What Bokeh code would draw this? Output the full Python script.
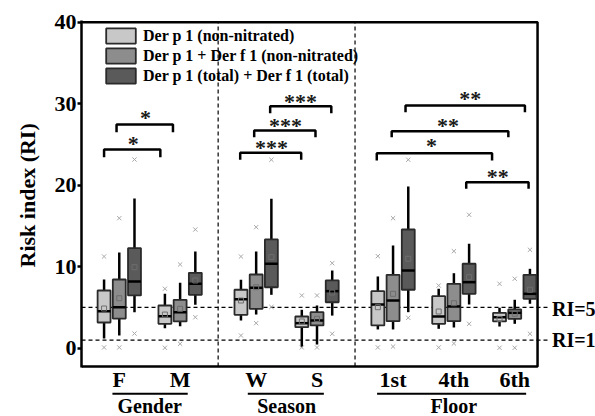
from bokeh.plotting import figure
from bokeh.models import Range1d, FixedTicker, Legend, LegendItem, Title
from bokeh.core.properties import value
from bokeh.embed import file_html
from bokeh.resources import INLINE

SERIF = "Liberation Serif"

# ---------------- data ----------------
categories = ["F", "M", "W", "S", "1st", "4th", "6th"]
cat_x = [0, 4, 9, 13, 18, 22, 26]
groups = ["Gender", "Season", "Floor"]
group_x = [2, 11, 22]
underline_start = [-0.45, 8.45, 16.95]
underline_end = [4.5, 13.45, 26.75]

series_names = ["Der p 1 (non-nitrated)",
                "Der p 1 + Der f 1 (non-nitrated)",
                "Der p 1 (total) + Der f 1 (total)"]
series_colors = ["#c8c8c8", "#8d8d8d", "#5a5a5a"]
series_offset = [-1, 0, 1]

# series A: Der p 1 (non-nitrated)
a_q1 = [3.15, 2.99, 4.10, 2.58, 2.79, 2.99, 3.28]
a_med = [4.54, 3.93, 6.01, 3.07, 5.36, 3.89, 3.80]
a_q3 = [7.08, 5.24, 7.17, 3.89, 7.00, 6.38, 4.34]
a_wlo = [1.19, 2.45, 3.40, 0.12, 2.30, 2.38, 2.66]
a_whi = [8.43, 6.67, 8.39, 4.71, 8.80, 7.29, 4.96]
a_mean = [4.87, 4.13, 5.85, 3.28, 5.03, 4.50, 3.60]
a_out_hi = [11.25, 7.29, 11.25, 6.47, 11.29, 7.69, 7.90]
a_out_lo = [0.09, 0.05, 1.56, 0.09, 0.09, 0.09, 0.05]

# series B: Der p 1 + Der f 1 (non-nitrated)
b_q1 = [3.64, 3.28, 4.83, 2.79, 3.31, 3.31, 3.60]
b_med = [5.03, 4.42, 7.41, 3.40, 5.85, 5.12, 4.34]
b_q3 = [8.43, 5.94, 9.04, 4.42, 9.00, 7.90, 4.75]
b_wlo = [1.56, 2.70, 4.13, 0.45, 2.30, 2.54, 2.99]
b_whi = [11.74, 8.02, 11.87, 5.24, 12.60, 9.20, 5.94]
b_mean = [6.13, 4.83, 7.48, 3.60, 6.67, 5.52, 4.22]
b_out_hi = [15.95, 10.27, 14.85, 6.47, 15.95, 11.90, 8.52]
b_out_lo = [0.09, 0.54, 3.07, 0.09, 0.20, 0.58, 0.05]

# series C: Der p 1 (total) + Der f 1 (total)
c_q1 = [6.47, 6.55, 7.48, 5.64, 7.17, 6.67, 6.06]
c_med = [8.18, 7.90, 10.36, 7.00, 9.53, 8.10, 6.67]
c_q3 = [12.27, 9.25, 13.34, 8.31, 14.56, 10.36, 9.00]
c_wlo = [4.42, 5.32, 6.55, 4.00, 4.42, 5.36, 5.45]
c_whi = [18.37, 11.87, 18.33, 9.53, 19.84, 12.81, 9.74]
c_mean = [9.94, 8.31, 11.17, 6.83, 10.97, 8.71, 7.17]
c_out_hi = [23.15, 14.56, 23.12, 10.43, 23.12, 16.37, 12.07]
c_out_lo = [1.80, 3.80, 5.06, 1.77, 3.73, 2.99, 1.77]

# significance brackets
br_x0 = [-1.00, -0.18, 7.95, 8.87, 9.92, 16.93, 17.91, 18.82, 22.81]
br_x1 = [2.70, 3.53, 11.96, 12.90, 13.94, 24.51, 25.58, 26.67, 26.91]
br_y = [24.38, 27.45, 23.98, 26.71, 29.69, 23.93, 26.63, 29.78, 20.37]
br_leg = [23.44, 26.50, 23.12, 25.89, 28.83, 23.03, 25.89, 28.96, 19.56]
star_x = [0.92, 1.72, 10.00, 10.93, 11.92, 20.52, 21.61, 23.07, 24.88]
star_y = [25.57, 28.76, 25.08, 27.82, 30.72, 25.36, 27.85, 31.13, 21.60]
star_text = ["*", "*", "***", "***", "***", "*", "**", "**", "**"]

ri_levels = [5, 1]
ri_labels = ["RI=5", "RI=1"]
ri_label_y = [4.85, 1.06]
separators_x = [6.5, 15.5]
y_ticks = [0, 10, 20, 30, 40]

# ---------------- figure ----------------
X0, X1 = -2.484, 31.31
Y0, Y1 = -8.38, 40.94
BOX_RIGHT = 27.5
BOX_BOTTOM = -2.25
BOX_TOP = 40
PX_PER_Y = 8.15

p = figure(width=595, height=416, output_backend="svg", toolbar_location=None,
           title=None, x_range=Range1d(X0, X1), y_range=Range1d(Y0, Y1),
           x_axis_location=None, min_border_left=78, min_border_right=0,
           min_border_top=14, min_border_bottom=0)
p.grid.visible = False
p.outline_line_color = None

# frame box (top, right, bottom); left edge is the y axis
p.line([X0, BOX_RIGHT, BOX_RIGHT, X0], [BOX_TOP, BOX_TOP, BOX_BOTTOM, BOX_BOTTOM],
       line_color="black", line_width=2.5)

# reference lines
for lv in ri_levels:
    p.line([X0, 28.2], [lv, lv], line_color="black", line_width=1.2, line_dash="4 3")
for sx in separators_x:
    p.line([sx, sx], [BOX_BOTTOM, BOX_TOP], line_color="black", line_width=1.2,
           line_dash="4 3")

series = [
    (a_q1, a_med, a_q3, a_wlo, a_whi, a_mean, a_out_hi, a_out_lo),
    (b_q1, b_med, b_q3, b_wlo, b_whi, b_mean, b_out_hi, b_out_lo),
    (c_q1, c_med, c_q3, c_wlo, c_whi, c_mean, c_out_hi, c_out_lo),
]
BW = 0.85
legend_items = []
for k, (q1, med, q3, wlo, whi, mean, ohi, olo) in enumerate(series):
    xs = [c + series_offset[k] for c in cat_x]
    p.segment(x0=xs, y0=wlo, x1=xs, y1=whi, line_color="black", line_width=2.5)
    r = p.vbar(x=xs, width=BW, bottom=q1, top=q3, fill_color=series_colors[k],
               line_color="#2a2a2a", line_width=1.8)
    legend_items.append(LegendItem(label=series_names[k], renderers=[r]))
    p.segment(x0=[x - BW / 2 for x in xs], y0=med, x1=[x + BW / 2 for x in xs], y1=med,
              line_color="black", line_width=2.5)
    p.scatter(xs, mean, marker="square", size=5, fill_color=None,
              line_color="#6e6e6e", line_width=1)
    p.scatter(xs + xs, ohi + olo, marker="x", size=6, line_color="#a8a8a8",
              line_width=1)

# brackets
p.multi_line(xs=[[a, a, b, b] for a, b in zip(br_x0, br_x1)],
             ys=[[l, y, y, l] for y, l in zip(br_y, br_leg)],
             line_color="black", line_width=2.5)
STAR_SIZE = 22
star_base = [y - 4.0 / PX_PER_Y for y in star_y]
p.text(x=star_x, y=star_base, text=star_text, text_font=value(SERIF),
       text_font_style="bold", text_font_size=f"{STAR_SIZE}px", text_align="center",
       text_baseline="alphabetic", text_color="#1a1a1a")

# RI labels
p.text(x=[28.45, 28.45], y=ri_label_y, text=ri_labels, text_font=value(SERIF),
       text_font_style="bold", text_font_size="20px", text_align="left",
       text_baseline="middle", text_color="black")

# category labels, underlines, group labels
p.text(x=cat_x, y=[-3.9] * len(cat_x), text=categories, text_font=value(SERIF),
       text_font_style="bold", text_font_size="22px", text_align="center",
       text_baseline="middle", text_color="black")
p.segment(x0=underline_start, y0=[-5.6] * 3, x1=underline_end, y1=[-5.6] * 3,
          line_color="black", line_width=2)
p.text(x=group_x, y=[-7.05] * 3, text=groups, text_font=value(SERIF),
       text_font_style="bold", text_font_size="20px", text_align="center",
       text_baseline="middle", text_color="black")

# y axis
ax = p.yaxis[0]
ax.bounds = (-2.4, 40.15)
ax.ticker = FixedTicker(ticks=y_ticks)
ax.minor_tick_line_color = None
ax.major_tick_out = 4
ax.major_tick_in = 0
ax.major_tick_line_width = 2.5
ax.axis_line_width = 2.5
ax.major_label_standoff = 1
ax.major_label_text_font = SERIF
ax.major_label_text_font_style = "bold"
ax.major_label_text_font_size = "22px"
ax.major_label_text_color = "black"

ylabel = Title(text="Risk index (RI)", align="left", offset=149, standoff=24,
               text_font=SERIF, text_font_style="bold", text_font_size="22px",
               text_color="black")
p.add_layout(ylabel, "left")

legend = Legend(items=legend_items, location=(21, 331), orientation="vertical",
                glyph_width=37, glyph_height=19, label_height=19, spacing=1,
                padding=0, margin=0, label_standoff=4, border_line_color=None,
                background_fill_alpha=0, label_text_font=SERIF,
                label_text_font_style="bold", label_text_font_size="16px",
                label_text_color="black")
p.add_layout(legend)

open("out.html", "w").write(file_html(p, INLINE))
